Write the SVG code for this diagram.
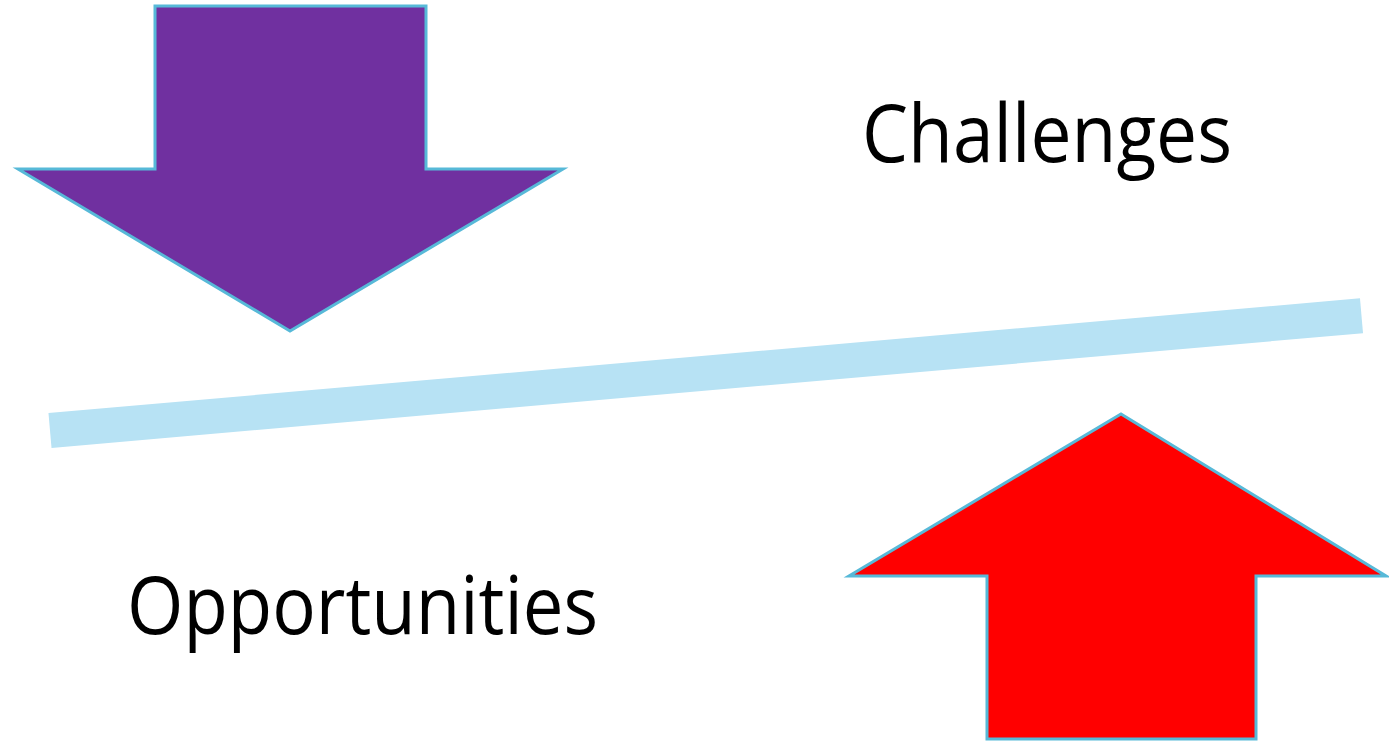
<svg xmlns="http://www.w3.org/2000/svg" width="1389" height="742" viewBox="0 0 1389 742">
<style>
.arrow{stroke:#57b9d8;stroke-width:3;stroke-linejoin:miter}
.lbl{font-family:"Open Sans","DejaVu Sans",sans-serif;font-size:80px;fill:#000}
</style>
<rect width="1389" height="742" fill="#fff"/>
<g id="connectors">
<line x1="50" y1="430.5" x2="1361.5" y2="315.8" stroke="#b7e2f4" stroke-width="35"/>
</g>
<g id="challenges-arrow">
<polygon class="arrow" fill="#7030a0" points="155,6 426,6 426,169 563,169 290,331 18,169 155,169"/>
</g>
<g id="opportunities-arrow">
<polygon class="arrow" fill="#ff0000" points="1121,414 1386,576 1256,576 1256,739 987,739 987,576 849,576"/>
</g>
<g id="challenges-label">
<text class="lbl" x="862" y="162" textLength="370" lengthAdjust="spacingAndGlyphs">Challenges</text>
</g>
<g id="opportunities-label">
<text class="lbl" x="127" y="634" textLength="471" lengthAdjust="spacingAndGlyphs">Opportunities</text>
</g>
</svg>
